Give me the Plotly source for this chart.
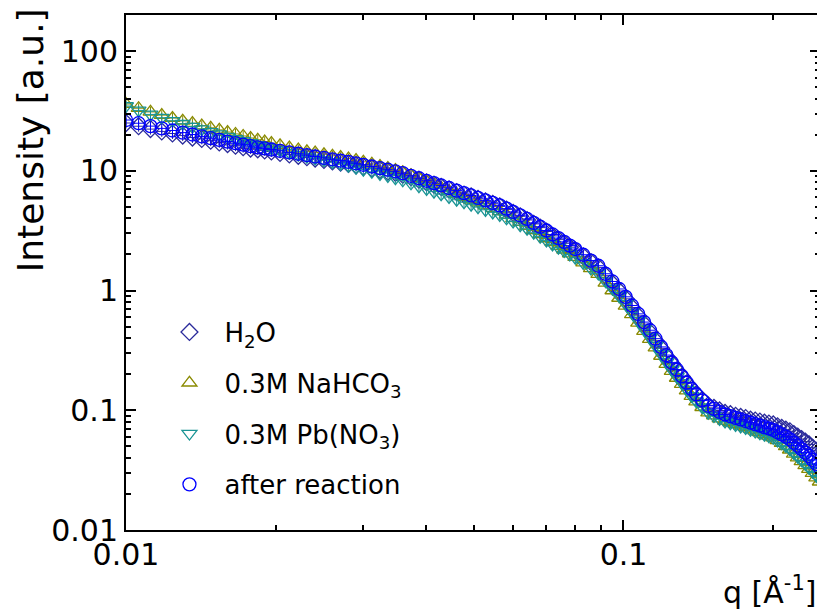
import plotly.graph_objects as go

# scattering vector q [1/Angstrom]
q = [0.0100, 0.0106, 0.0112, 0.0118, 0.0124, 0.0130, 0.0136, 0.0142, 0.0148, 0.0154, 0.0160, 0.0166, 0.0172, 0.0178, 0.0184, 0.0190, 0.0196,
     0.0204, 0.0213, 0.0222, 0.0231, 0.0240, 0.0250, 0.0260, 0.0270, 0.0280, 0.0290, 0.0300, 0.0312, 0.0324, 0.0336, 0.0348, 0.0360,
     0.0374, 0.0388, 0.0402, 0.0416, 0.0430, 0.0446, 0.0462, 0.0478, 0.0494, 0.0510, 0.0528, 0.0546, 0.0564, 0.0582, 0.0600,
     0.062, 0.064, 0.066, 0.068, 0.070, 0.072, 0.074, 0.076, 0.078, 0.080,
     0.083, 0.086, 0.089, 0.092, 0.095, 0.098, 0.101, 0.104, 0.107, 0.110, 0.113, 0.116, 0.119, 0.122, 0.125, 0.128, 0.131, 0.134, 0.137, 0.140,
     0.144, 0.148, 0.152, 0.156, 0.160, 0.164, 0.168, 0.172, 0.176, 0.180, 0.184, 0.188, 0.192, 0.196, 0.200, 0.204, 0.208, 0.212, 0.216,
     0.220, 0.224, 0.228, 0.232, 0.236, 0.240, 0.244, 0.248]

I_h2o = [25.06, 23.56, 22.29, 21.32, 20.48, 19.67, 18.96, 18.46, 17.83, 17.26, 16.71, 16.20, 15.74, 15.32, 15.11, 14.80, 14.49,
         14.10, 13.70, 13.34, 12.99, 12.66, 12.33, 12.00, 11.71, 11.42, 11.11, 10.79, 10.45, 10.13, 9.82, 9.62, 9.28, 8.83, 8.42,
         8.02, 7.66, 7.33, 6.98, 6.64, 6.33, 6.10, 5.83, 5.55, 5.30, 5.04, 4.74, 4.45,
         4.17, 3.88, 3.60, 3.35, 3.11, 2.86, 2.66, 2.48, 2.30, 2.16,
         1.93, 1.73, 1.56, 1.33, 1.14, 0.991, 0.852, 0.722, 0.614, 0.524, 0.448, 0.381, 0.329, 0.281, 0.246, 0.215, 0.191, 0.168, 0.151, 0.136,
         0.122, 0.110, 0.1047, 0.0996, 0.0949, 0.0928, 0.0898, 0.0879, 0.0861, 0.0834, 0.0820, 0.0804, 0.0788, 0.0775, 0.0761, 0.0735,
         0.0712, 0.0688, 0.0667, 0.0633, 0.0602, 0.0575, 0.0548, 0.0518, 0.0485, 0.0458, 0.0433]

I_nahco3 = [36.11, 33.30, 31.02, 29.16, 27.58, 26.18, 24.97, 23.83, 22.86, 21.95, 21.07, 20.30, 19.53, 18.78, 18.15, 17.55, 17.00,
            16.33, 15.62, 15.01, 14.55, 14.16, 13.74, 13.34, 13.00, 12.65, 12.28, 11.88, 11.41, 10.96, 10.55, 10.13, 9.70, 9.15, 8.66,
            8.13, 7.66, 7.23, 6.78, 6.39, 6.04, 5.73, 5.43, 5.12, 4.85, 4.58, 4.28, 4.00,
            3.72, 3.45, 3.18, 2.94, 2.72, 2.52, 2.35, 2.19, 2.03, 1.90,
            1.71, 1.53, 1.37, 1.16, 1.00, 0.866, 0.745, 0.631, 0.537, 0.458, 0.392, 0.333, 0.284, 0.243, 0.212, 0.186, 0.165, 0.146, 0.131, 0.118,
            0.106, 0.0957, 0.0903, 0.0853, 0.0814, 0.0790, 0.0766, 0.0744, 0.0724, 0.0700, 0.0676, 0.0653, 0.0630, 0.0610, 0.0590, 0.0561,
            0.0531, 0.0500, 0.0468, 0.0433, 0.0402, 0.0374, 0.0347, 0.0323, 0.0298, 0.0274, 0.0253]

I_pbno3 = [34.75, 31.92, 29.56, 27.74, 26.15, 24.70, 23.40, 22.26, 21.16, 20.21, 19.30, 18.48, 17.74, 17.06, 16.48, 15.95, 15.44,
           14.84, 14.18, 13.63, 13.14, 12.69, 12.24, 11.80, 11.40, 11.02, 10.61, 10.23, 9.81, 9.41, 9.05, 8.68, 8.33, 7.86, 7.45,
           7.05, 6.70, 6.37, 6.04, 5.73, 5.46, 5.21, 4.97, 4.72, 4.50, 4.28, 4.01, 3.77,
           3.52, 3.28, 3.04, 2.82, 2.62, 2.43, 2.28, 2.14, 2.00, 1.88,
           1.70, 1.53, 1.39, 1.20, 1.04, 0.900, 0.774, 0.656, 0.558, 0.476, 0.407, 0.346, 0.295, 0.253, 0.219, 0.191, 0.169, 0.149, 0.132, 0.119,
           0.106, 0.0953, 0.0898, 0.0846, 0.0806, 0.0780, 0.0755, 0.0732, 0.0711, 0.0687, 0.0667, 0.0645, 0.0626, 0.0607, 0.0589, 0.0561,
           0.0532, 0.0504, 0.0474, 0.0440, 0.0409, 0.0382, 0.0356, 0.0332, 0.0307, 0.0285, 0.0263]

I_after = [26.55, 24.96, 23.61, 22.59, 21.70, 20.84, 20.09, 19.37, 18.71, 18.11, 17.53, 17.00, 16.52, 16.08, 15.71, 15.38, 15.06,
           14.66, 14.24, 13.87, 13.50, 13.16, 12.82, 12.47, 12.17, 11.87, 11.55, 11.22, 10.86, 10.53, 10.21, 9.90, 9.55, 9.08, 8.66,
           8.25, 7.88, 7.54, 7.18, 6.83, 6.51, 6.22, 5.94, 5.66, 5.40, 5.14, 4.83, 4.54,
           4.25, 3.96, 3.67, 3.41, 3.17, 2.94, 2.74, 2.55, 2.37, 2.22,
           1.99, 1.78, 1.61, 1.38, 1.19, 1.03, 0.886, 0.750, 0.638, 0.545, 0.466, 0.396, 0.338, 0.289, 0.251, 0.219, 0.193, 0.170, 0.151, 0.136,
           0.121, 0.109, 0.1027, 0.0968, 0.0922, 0.0893, 0.0864, 0.0838, 0.0813, 0.0788, 0.0766, 0.0744, 0.0723, 0.0704, 0.0685, 0.0655,
           0.0628, 0.0602, 0.0572, 0.0537, 0.0506, 0.0474, 0.0443, 0.0415, 0.0385, 0.0357, 0.0331]

series_names = ["H<sub>2</sub>O", "0.3M NaHCO<sub>3</sub>", "0.3M Pb(NO<sub>3</sub>)", "after reaction"]
series_values = [I_h2o, I_nahco3, I_pbno3, I_after]
series_colors = ["#2b2b9b", "#8a8a00", "#1a9494", "#0000ff"]
series_symbols = ["diamond-open", "triangle-up-open", "triangle-down-open", "circle-open"]

y_tickvals = [0.01, 0.1, 1, 10, 100]
y_ticktext = ["0.01", "0.1", "1", "10", "100"]
x_tickvals = [0.01, 0.1]
x_ticktext = ["0.01", "0.1"]

FONT = "DejaVu Sans, Verdana, Arial, sans-serif"

fig = go.Figure()
for i, (name, vals, col, sym) in enumerate(zip(series_names, series_values, series_colors, series_symbols)):
    fig.add_trace(go.Scatter(
        x=q, y=vals, name=name, mode="markers", legendgroup=str(i),
        marker=dict(symbol=sym, size=13, color=col, line=dict(width=1.3, color=col)),
        error_y=dict(type="percent", value=10, thickness=1, width=0, color=col),
        error_x=dict(type="percent", value=2.6, thickness=1, width=0, color=col),
    ))

axis_common = dict(
    showline=True, linewidth=2, linecolor="black", mirror="ticks",
    ticks="inside", ticklen=10, tickwidth=2, tickcolor="black",
    showgrid=False, zeroline=False,
    tickfont=dict(family=FONT, size=30, color="black"),
    minor=dict(ticks="inside", ticklen=5, tickwidth=2, tickcolor="black", dtick="D1", showgrid=False),
)

fig.update_xaxes(type="log", range=[-2, -0.605], tickvals=x_tickvals, ticktext=x_ticktext,
                 ticklabelstandoff=-3, **axis_common)
fig.update_yaxes(type="log", range=[-2, 2.301], tickvals=y_tickvals, ticktext=y_ticktext,
                 ticklabelstandoff=0, **axis_common)

fig.add_annotation(text="Intensity [a.u.]", textangle=-90, xref="paper", yref="paper",
                   x=-0.138, y=0.757, xanchor="center", yanchor="middle", showarrow=False,
                   font=dict(family=FONT, size=36, color="black"))
fig.add_annotation(text="q [Å<sup>-1</sup>]", xref="paper", yref="paper",
                   x=0.997, y=-0.118, xanchor="right", yanchor="middle", showarrow=False,
                   font=dict(family=FONT, size=30, color="black"))

# the page body has an 8 px default margin, so the figure is sized 8 px smaller
fig.update_layout(
    width=817, height=605,
    margin=dict(l=118, r=3, t=7, b=83),
    paper_bgcolor="white", plot_bgcolor="white",
    font=dict(family=FONT, color="black"),
    showlegend=True,
    legend=dict(x=0.041, y=0.43, xanchor="left", yanchor="top",
                font=dict(family=FONT, size=26, color="black"),
                itemwidth=60, tracegroupgap=14, traceorder="grouped",
                bgcolor="rgba(0,0,0,0)", borderwidth=0),
)

fig.write_html("out.html")
